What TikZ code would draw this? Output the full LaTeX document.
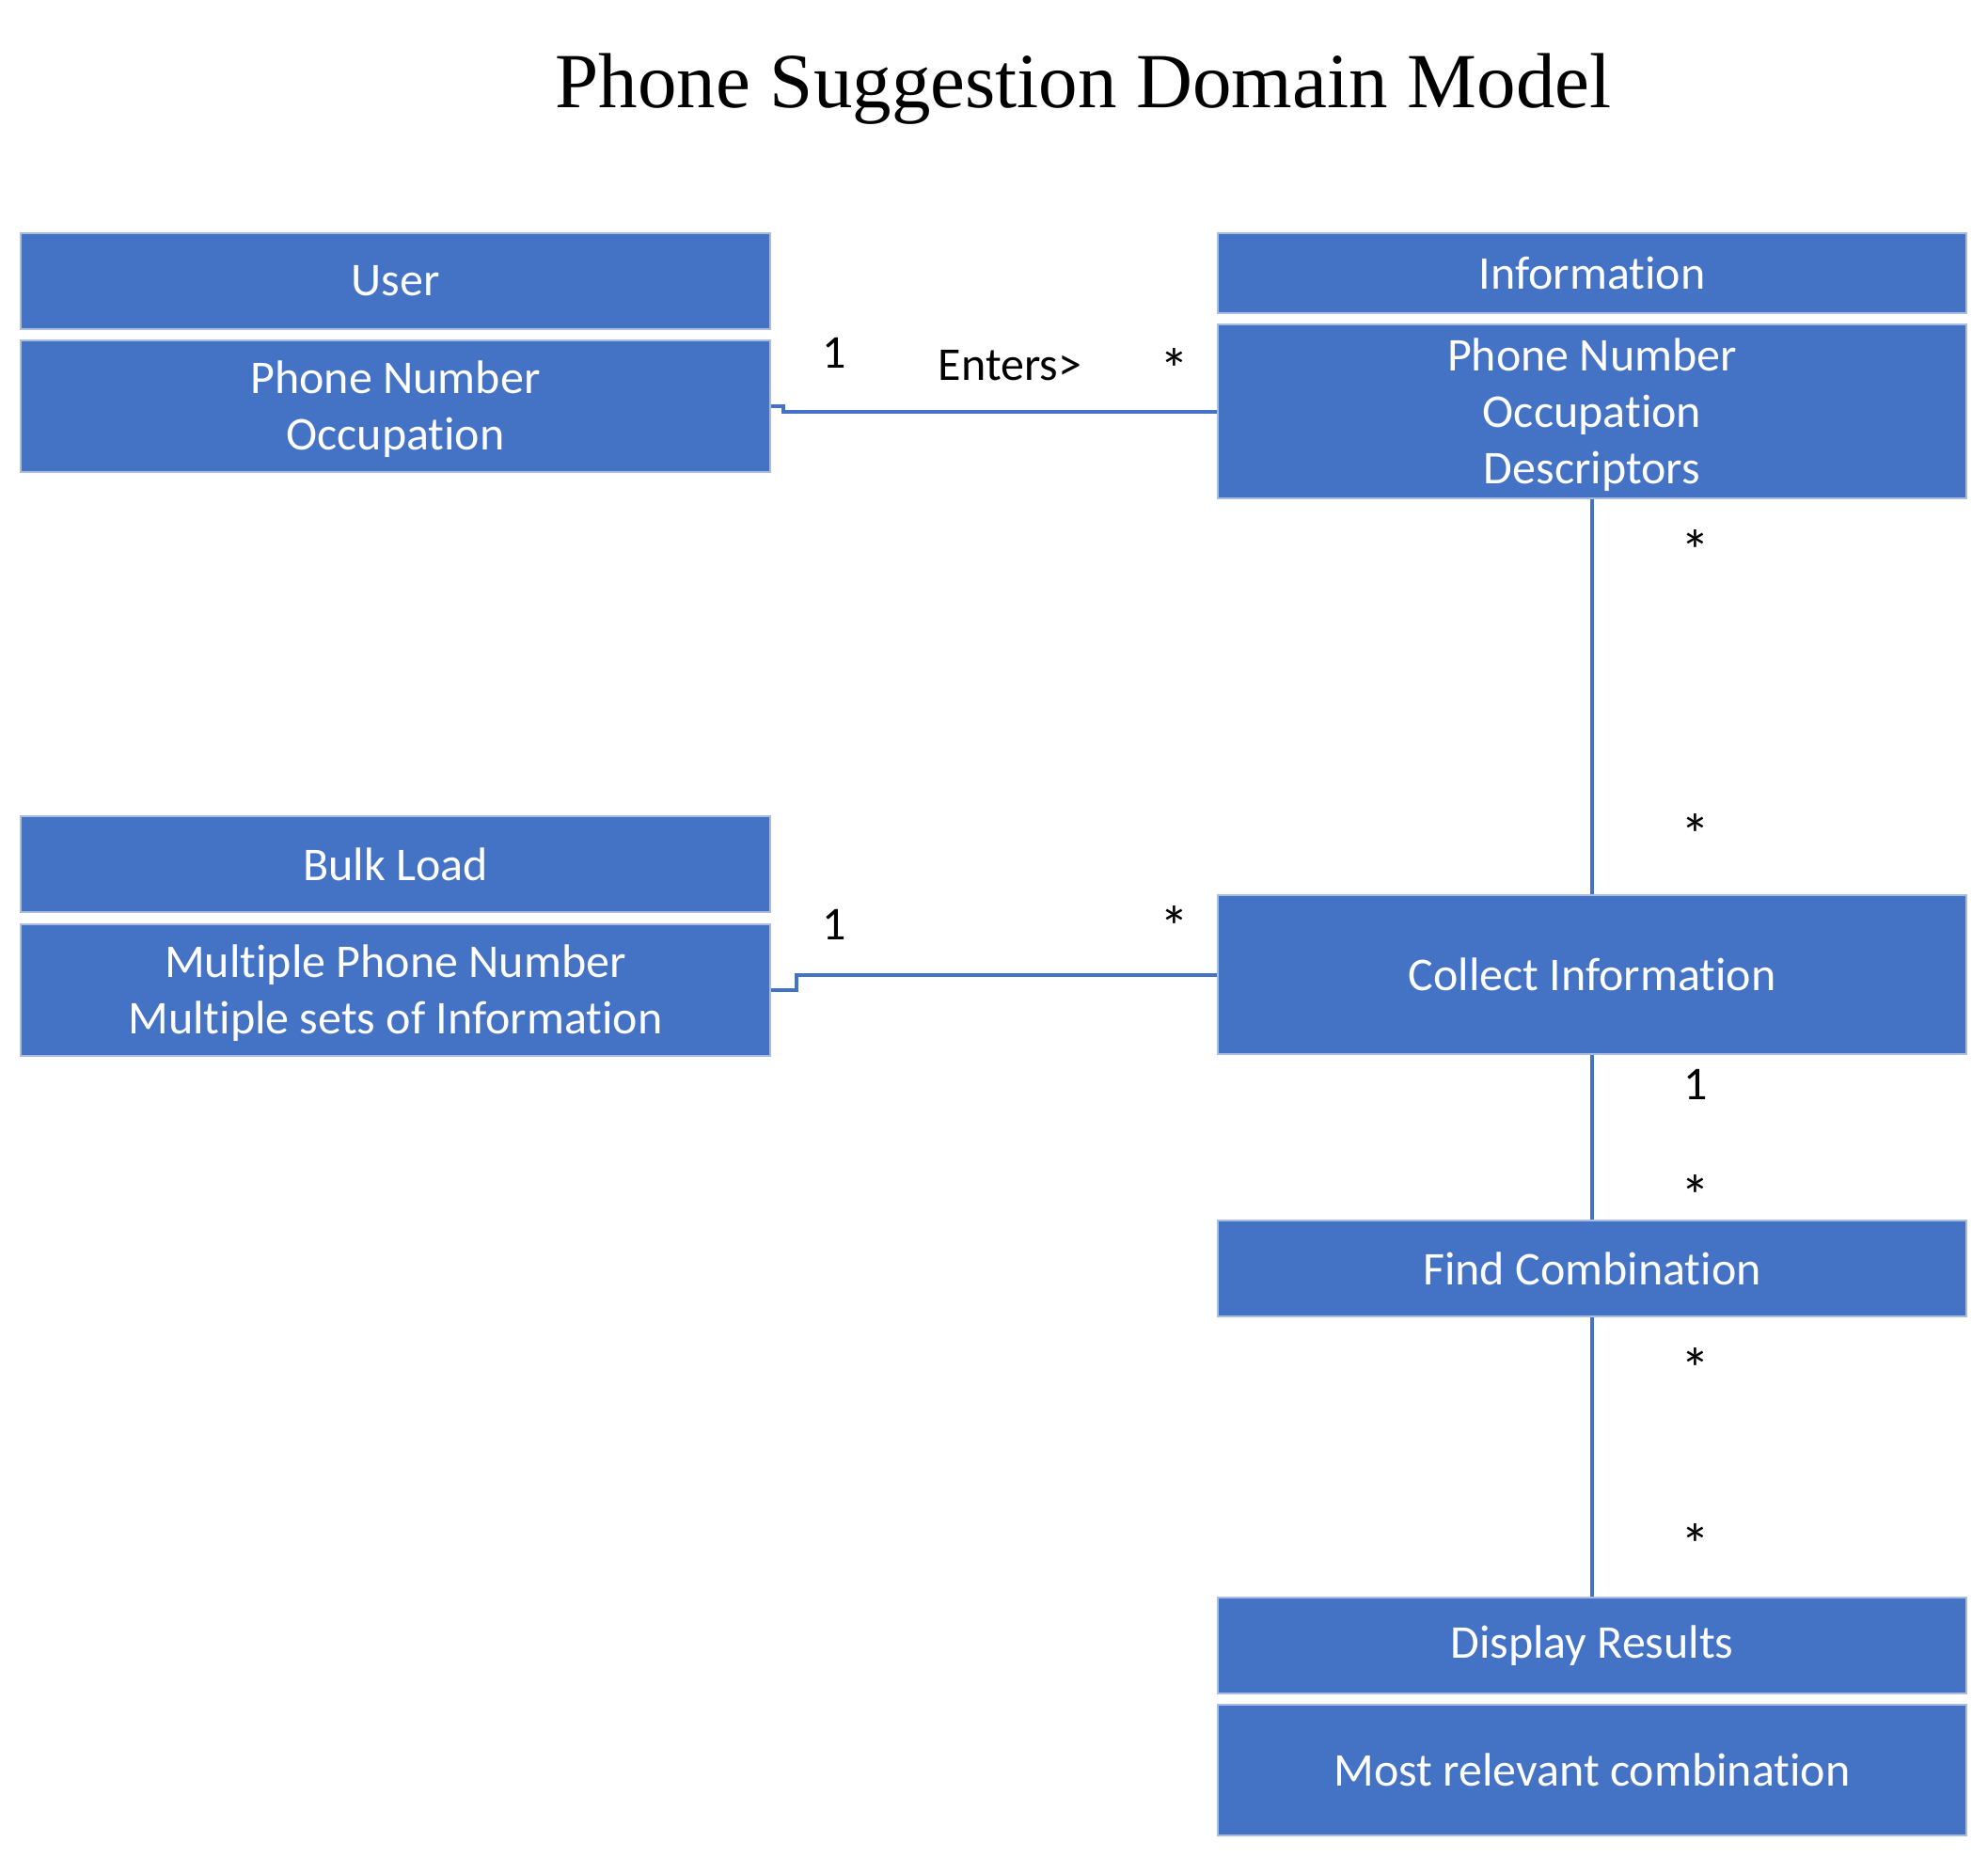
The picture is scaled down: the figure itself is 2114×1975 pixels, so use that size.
\documentclass[tikz,border=0pt]{standalone}
\usepackage{fontspec}
\setmainfont{Carlito}[Ligatures={NoCommon}]
\newfontfamily\titlefont{Liberation Serif}
\definecolor{clsblue}{HTML}{4472C4}
\definecolor{clsedge}{HTML}{A9BDE3}
\newcommand{\lowerit}[2]{\raisebox{-#1}[\height][\depth]{\parbox{796pt}{\centering #2}}}
\begin{document}
\begin{tikzpicture}[x=1pt,y=-1pt,
  cls/.style={rectangle, fill=clsblue, draw=clsedge, line width=1.5pt, text=white,
    align=center, font=\fontsize{50}{60}\selectfont, inner sep=0pt},
  leftcls/.style={cls, minimum width=797pt},
  rightcls/.style={cls, minimum width=796pt},
  conn/.style={draw=clsblue, line width=4pt},
  mult/.style={anchor=north, inner sep=0pt, font=\fontsize{50}{60}\selectfont, text=black},
  star/.style={anchor=north, inner sep=0pt, font=\fontsize{62}{70}\selectfont, text=black}]
\useasboundingbox[fill=white] (0,0) rectangle (2114,1975);

\node[anchor=base, inner sep=0pt, font=\titlefont\fontsize{83}{100}\selectfont] (title) at (1152,114) {Phone Suggestion Domain Model};

% left column
\node[leftcls, minimum height=102pt] (user) at (420.5,299) {User};
\node[leftcls, minimum height=140pt] (userattr) at (420.5,432) {\lowerit{3pt}{Phone Number\\Occupation}};
\node[leftcls, minimum height=102pt] (bulk) at (420.5,919) {Bulk Load};
\node[leftcls, minimum height=140pt] (bulkattr) at (420.5,1053) {\lowerit{3pt}{Multiple Phone Number\\Multiple sets of Information}};

% right column
\node[rightcls, minimum height=85pt] (info) at (1693,290.5) {Information};
\node[rightcls, minimum height=185pt] (infoattr) at (1693,437.5) {\lowerit{4pt}{Phone Number\\Occupation\\Descriptors}};
\node[rightcls, minimum height=169pt] (collect) at (1693,1036.5) {Collect Information};
\node[rightcls, minimum height=102pt] (find) at (1693,1349) {Find Combination};
\node[rightcls, minimum height=102pt] (display) at (1693,1750) {Display Results};
\node[rightcls, minimum height=139pt] (displayattr) at (1693,1882.5) {Most relevant combination};

% connectors
\draw[conn] (userattr.east) -- ++(13,0) |- (infoattr.west);
\draw[conn] (bulkattr.east) -- ++(27,0) |- (collect.west);
\draw[conn] (infoattr.south) -- (collect.north);
\draw[conn] (collect.south) -- (find.north);
\draw[conn] (find.south) -- (display.north);

% multiplicities and labels
\node[mult] (m1) at (887,359) {1};
\node[mult] (enters) at (1074,372) {Enters>};
\node[star] (s1) at (1249,370) {*};
\node[mult] (m2) at (887,967) {1};
\node[star] (s2) at (1249,963) {*};
\node[star] (s3) at (1803,563) {*};
\node[star] (s4) at (1803,865) {*};
\node[mult] (m3) at (1803,1137) {1};
\node[star] (s5) at (1803,1249) {*};
\node[star] (s6) at (1803,1433) {*};
\node[star] (s7) at (1803,1620) {*};
\end{tikzpicture}
\end{document}
